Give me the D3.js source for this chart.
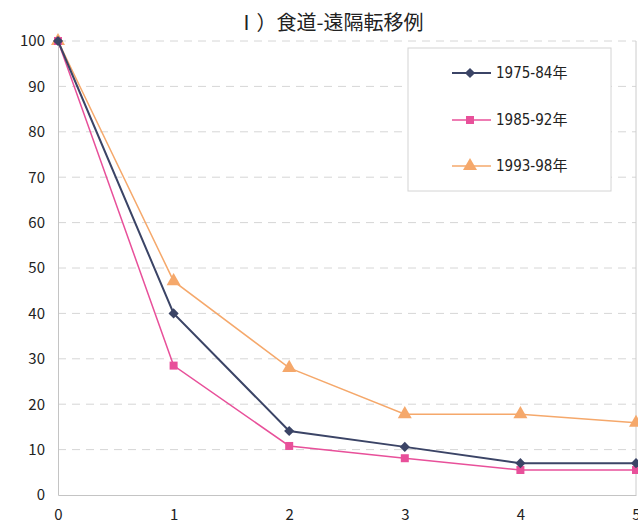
<!DOCTYPE html>
<html><head><meta charset="utf-8">
<script src="https://cdn.jsdelivr.net/npm/d3@7"></script>
<style>body{margin:0;background:#fff}svg{display:block}text{font-family:"Noto Sans CJK JP","Noto Sans",sans-serif}</style>
</head><body>
<script>
const title = "Ⅰ）食道-遠隔転移例";
const years = [0, 1, 2, 3, 4, 5];
const yTicks = [0, 10, 20, 30, 40, 50, 60, 70, 80, 90, 100];
const seriesNames = ["1975-84年", "1985-92年", "1993-98年"];
const s1975 = [100, 40, 14.1, 10.6, 7.0, 7.0];
const s1985 = [100, 28.5, 10.8, 8.1, 5.5, 5.5];
const s1993 = [100, 47.1, 28.0, 17.8, 17.8, 15.9];
const colors = ["#3b4466", "#e8509a", "#f5a86b"];
const symbols = [d3.symbolSquare, d3.symbolSquare, d3.symbolTriangle];
const symSizes = [52, 64, 85];
const symRot = [45, 0, 0];

const W = 638, H = 526;
const numFont = "'DejaVu Sans Condensed','Liberation Sans Narrow','Noto Sans',sans-serif";
const svg = d3.select("body").append("svg").attr("width", W).attr("height", H);
const x = d3.scaleLinear().domain([0, 5]).range([58, 636]);
const y = d3.scaleLinear().domain([0, 100]).range([495, 41]);

// gridlines
svg.append("g").selectAll("line").data(yTicks.filter(d => d > 0)).join("line")
  .attr("x1", x(0)).attr("x2", x(5)).attr("y1", d => y(d)).attr("y2", d => y(d))
  .attr("stroke", "#d6d6d6").attr("stroke-dasharray", "8,6").attr("stroke-width", 1);
// right border
svg.append("line").attr("x1", x(5)).attr("x2", x(5)).attr("y1", y(100)).attr("y2", y(0))
  .attr("stroke", "#cccccc");

// axes
const yAxis = svg.append("g").attr("transform", `translate(${x(0)},0)`)
  .call(d3.axisLeft(y).tickValues(yTicks).tickSize(0).tickPadding(13));
const xAxis = svg.append("g").attr("transform", `translate(0,${y(0)})`)
  .call(d3.axisBottom(x).tickValues(years).tickFormat(d3.format("d")).tickSize(0).tickPadding(12));
[yAxis, xAxis].forEach(a => {
  a.select(".domain").attr("stroke", "#c4c4c4");
  a.selectAll("text").attr("font-size", 15).attr("fill", "#222").attr("font-family", numFont);
});
xAxis.selectAll("text").attr("dy", "0.85em");

// title
svg.append("text").attr("x", 330).attr("y", 30).attr("text-anchor", "middle")
  .attr("font-size", 20).attr("fill", "#222").text(title);

// series
const allSeries = [s1975, s1985, s1993];
const line = d3.line().x((d, i) => x(years[i])).y(d => y(d));
[2, 1, 0].forEach(k => {
  const g = svg.append("g");
  g.append("path").datum(allSeries[k]).attr("d", line).attr("fill", "none")
    .attr("stroke", colors[k]).attr("stroke-width", k === 0 ? 2 : 1.5);
  g.selectAll("path.m").data(allSeries[k]).join("path").attr("class", "m")
    .attr("transform", (d, i) => `translate(${x(years[i])},${y(d)}) rotate(${symRot[k]})`)
    .attr("d", d3.symbol().type(symbols[k]).size(symSizes[k])).attr("fill", colors[k]);
});

// legend
const lg = svg.append("g");
lg.append("rect").attr("x", 408).attr("y", 48).attr("width", 203).attr("height", 143)
  .attr("fill", "#fff").attr("stroke", "#d4d4d4");
const ly = [73, 120, 166];
seriesNames.forEach((n, k) => {
  lg.append("line").attr("x1", 452).attr("x2", 491).attr("y1", ly[k]).attr("y2", ly[k])
    .attr("stroke", colors[k]).attr("stroke-width", k === 0 ? 2 : 1.5);
  lg.append("path").attr("transform", `translate(470,${ly[k]}) rotate(${symRot[k]})`)
    .attr("d", d3.symbol().type(symbols[k]).size(symSizes[k])).attr("fill", colors[k]);
  const t = lg.append("text").attr("x", 496).attr("y", ly[k]).attr("dy", "0.35em")
    .attr("font-size", 15).attr("fill", "#222");
  t.append("tspan").attr("font-family", numFont).text(n.slice(0, -1));
  t.append("tspan").text(n.slice(-1));
});
</script>
</body></html>
